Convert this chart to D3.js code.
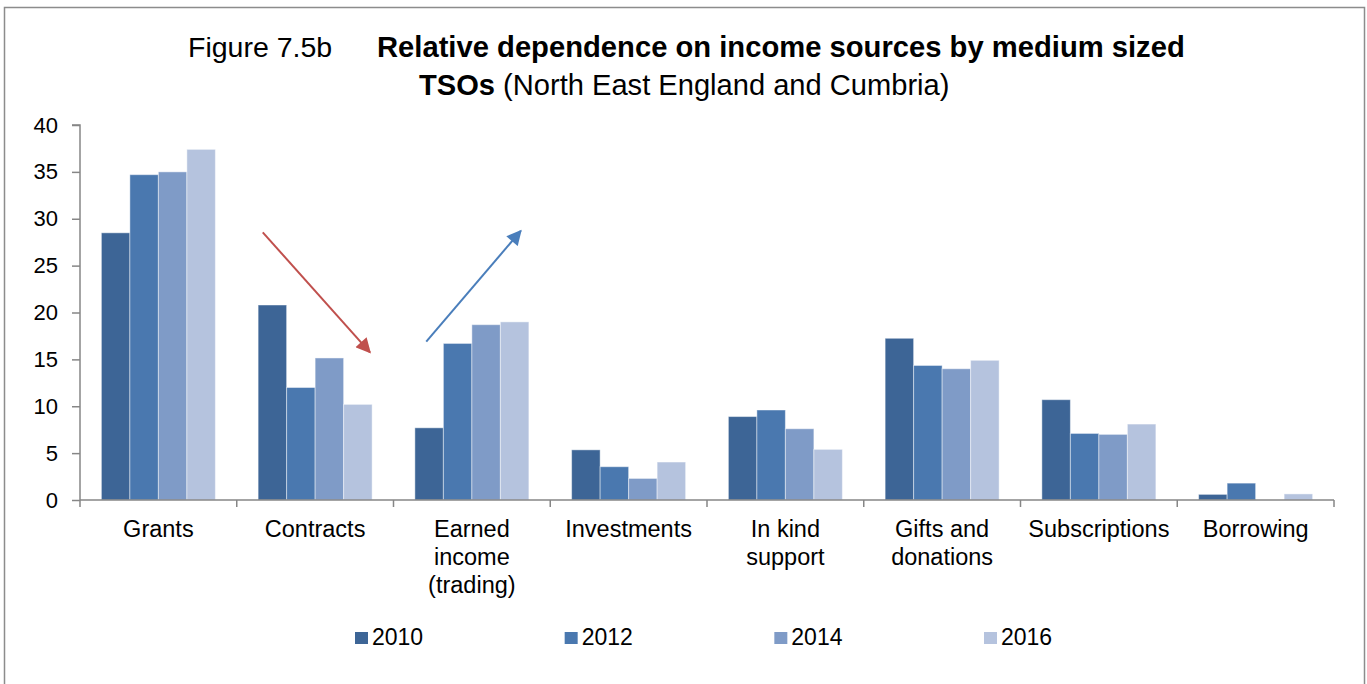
<!DOCTYPE html>
<html>
<head>
<meta charset="utf-8">
<script src="https://cdn.jsdelivr.net/npm/d3@7"></script>
<style>
  html, body { margin: 0; padding: 0; background: #fff; }
  svg { display: block; font-family: "Liberation Sans", Arial, sans-serif; }
</style>
</head>
<body>
<svg id="chart" width="1367" height="684"></svg>
<script>
// ---- data ----
const categories = ["Grants", "Contracts", "Earned income (trading)", "Investments",
                    "In kind support", "Gifts and donations", "Subscriptions", "Borrowing"];
const categoryLines = [["Grants"], ["Contracts"], ["Earned", "income", "(trading)"], ["Investments"],
                       ["In kind", "support"], ["Gifts and", "donations"], ["Subscriptions"], ["Borrowing"]];
const years = ["2010", "2012", "2014", "2016"];
const values2010 = [28.5, 20.8, 7.7, 5.35, 8.9, 17.25, 10.7, 0.6];
const values2012 = [34.7, 12.0, 16.7, 3.55, 9.6, 14.35, 7.1, 1.8];
const values2014 = [35.0, 15.15, 18.7, 2.3, 7.6, 14.0, 7.0, 0];
const values2016 = [37.4, 10.2, 19.0, 4.05, 5.4, 14.9, 8.1, 0.65];
const seriesValues = [values2010, values2012, values2014, values2016];
const colors = ["#3d6596", "#4a78af", "#7f9bc7", "#b5c3de"];
const yTicks = [0, 5, 10, 15, 20, 25, 30, 35, 40];
// trend arrows (category position, value)
const arrows = [
  { from: [1.166, 28.55], to: [1.850, 15.75], color: "#c0504d" },
  { from: [2.209, 16.9],  to: [2.812, 28.7],  color: "#4a7ebb" }
];

// ---- layout ----
const svg = d3.select("#chart");
const plotLeft = 80, plotRight = 1334, plotTop = 125, plotBottom = 500;

// border
svg.append("rect")
  .attr("x", 4.5).attr("y", 7.5).attr("width", 1360).attr("height", 700)
  .attr("fill", "none").attr("stroke", "#8c8c8c").attr("stroke-width", 1.5);

// title
svg.append("text").attr("x", 188).attr("y", 56.5)
  .attr("font-size", 28.5).attr("fill", "#000").text("Figure 7.5b");
svg.append("text").attr("x", 377).attr("y", 56.5)
  .attr("font-size", 29.2).attr("font-weight", "bold").attr("fill", "#000")
  .text("Relative dependence on income sources by medium sized");
const t2 = svg.append("text").attr("x", 419).attr("y", 95)
  .attr("font-size", 29.1).attr("fill", "#000");
t2.append("tspan").attr("font-weight", "bold").text("TSOs");
t2.append("tspan").text(" (North East England and Cumbria)");

// scales
const x0 = d3.scaleBand().domain(categories).range([plotLeft, plotRight]).paddingInner(0).paddingOuter(0);
const bw = x0.bandwidth();
const x1 = d3.scaleBand().domain(years).range([bw * 0.75 / 5.5, bw - bw * 0.75 / 5.5]).padding(0);
const y = d3.scaleLinear().domain([0, 40]).range([plotBottom, plotTop]);
const xPos = d3.scaleLinear().domain([0, categories.length]).range([plotLeft, plotRight]);

// bars
const g = svg.append("g");
years.forEach((yr, si) => {
  g.selectAll(".bar" + si)
    .data(categories.map((c, i) => ({ c, v: seriesValues[si][i] })))
    .enter().append("rect")
    .attr("x", d => x0(d.c) + x1(yr))
    .attr("y", d => y(d.v))
    .attr("width", x1.bandwidth())
    .attr("height", d => y(0) - y(d.v))
    .attr("fill", colors[si])
    .attr("stroke", d => d.v > 0 ? "rgba(255,255,255,0.45)" : "none")
    .attr("stroke-width", 1);
});

// y axis
const yAxis = d3.axisLeft(y).tickValues(yTicks).tickSize(8).tickPadding(14).tickFormat(d3.format("d"));
const ya = svg.append("g").attr("transform", `translate(${plotLeft},0)`).call(yAxis);
ya.select(".domain").attr("stroke", "#868686").attr("stroke-width", 1.5).attr("d", `M-8,${plotTop}H0V${plotBottom}`);
ya.selectAll(".tick line").attr("stroke", "#868686").attr("stroke-width", 1.5);
ya.selectAll(".tick text").attr("font-size", 22).attr("fill", "#000")
  .attr("font-family", "Liberation Sans, Arial, sans-serif");

// x axis
const xa = svg.append("g").attr("transform", `translate(0,${plotBottom})`);
xa.append("line").attr("x1", plotLeft).attr("x2", plotRight).attr("y1", 0).attr("y2", 0)
  .attr("stroke", "#868686").attr("stroke-width", 1.5);
const boundaries = d3.range(categories.length + 1).map(i => xPos(i));
xa.selectAll(".xt").data(boundaries).enter().append("line")
  .attr("x1", d => d).attr("x2", d => d).attr("y1", 0).attr("y2", 7)
  .attr("stroke", "#868686").attr("stroke-width", 1.5);
categories.forEach((c, i) => {
  const t = xa.append("text").attr("text-anchor", "middle")
    .attr("font-size", 23.5).attr("fill", "#000")
    .attr("x", x0(c) + bw / 2).attr("y", 37);
  categoryLines[i].forEach((ln, k) => {
    t.append("tspan").attr("x", x0(c) + bw / 2).attr("dy", k === 0 ? 0 : 28).text(ln);
  });
});

// arrows
const defs = svg.append("defs");
arrows.forEach((a, i) => {
  defs.append("marker").attr("id", "ah" + i)
    .attr("viewBox", "0 0 10 10").attr("refX", 9).attr("refY", 5)
    .attr("markerUnits", "userSpaceOnUse").attr("markerWidth", 17).attr("markerHeight", 15)
    .attr("orient", "auto")
    .append("path").attr("d", "M0,0L10,5L0,10Z").attr("fill", a.color);
  svg.append("line")
    .attr("x1", xPos(a.from[0])).attr("y1", y(a.from[1]))
    .attr("x2", xPos(a.to[0])).attr("y2", y(a.to[1]))
    .attr("stroke", a.color).attr("stroke-width", 2)
    .attr("marker-end", `url(#ah${i})`);
});

// legend
const legendX = d3.scalePoint().domain(years).range([355, 984]);
const lg = svg.append("g");
years.forEach((yr, i) => {
  lg.append("rect").attr("x", legendX(yr)).attr("y", 632).attr("width", 13).attr("height", 12)
    .attr("fill", colors[i]);
  lg.append("text").attr("x", legendX(yr) + 17).attr("y", 644.5)
    .attr("font-size", 23).attr("fill", "#000").text(yr);
});
</script>
</body>
</html>
